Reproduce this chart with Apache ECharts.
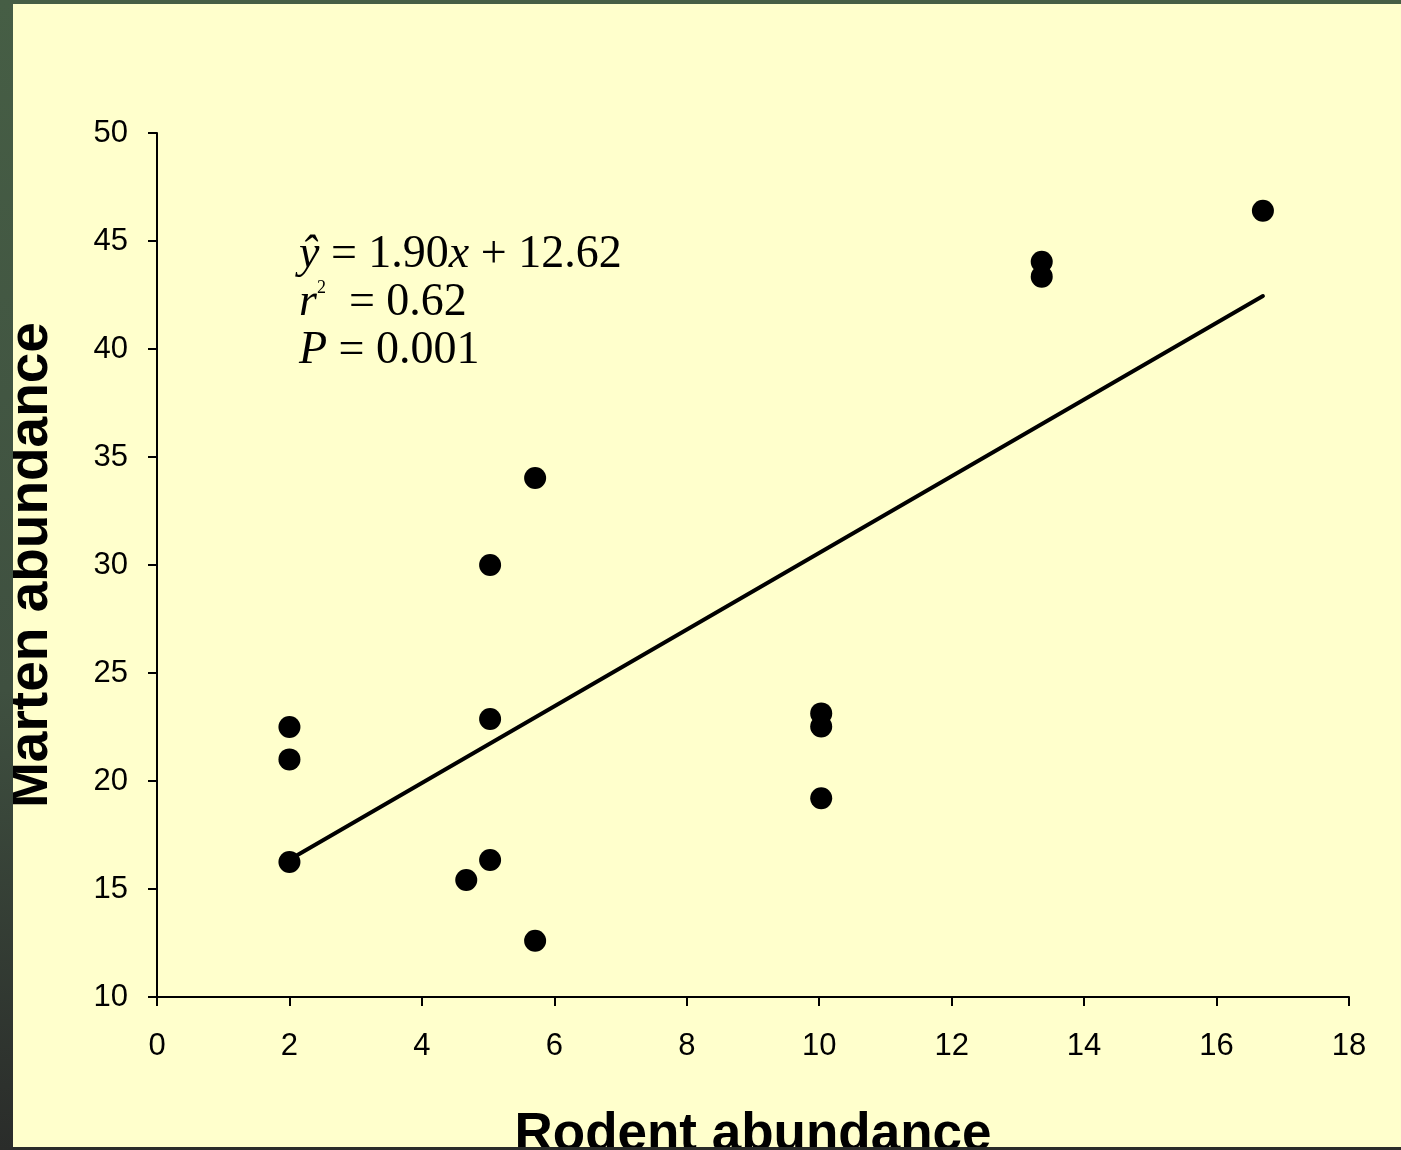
<!DOCTYPE html>
<html>
<head>
<meta charset="utf-8">
<script src="https://cdn.jsdelivr.net/npm/echarts@6/dist/echarts.min.js"></script>
<style>
  html, body { margin: 0; padding: 0; width: 1401px; height: 1150px; overflow: hidden; }
  body { background: linear-gradient(to bottom, #465e45 0%, #3f5040 60%, #2a2c2a 100%); position: relative; }
  #chart { position: absolute; left: 13px; top: 4px; width: 1388px; height: 1143px; }
</style>
</head>
<body>
<div id="chart"></div>
<script>
// Rodent abundance (x) vs marten abundance (y), one point per site
const rodentAbundance = [2, 2, 2, 4.67, 5.03, 5.03, 5.03, 5.71, 5.71, 10.03, 10.03, 10.03, 13.36, 13.36, 16.7];
const martenAbundance = [22.5, 21.0, 16.25, 15.42, 16.34, 22.87, 30.0, 34.03, 12.6, 23.13, 22.52, 19.2, 44.04, 43.35, 46.4];

// Fitted regression line, drawn between its two end points
const fitX = [2.05, 16.7];
const fitY = [16.45, 42.45];

// Axis ranges and tick steps
const xTicks = { min: 0, max: 18, step: 2 };
const yTicks = { min: 10, max: 50, step: 5 };

const points = rodentAbundance.map((x, i) => [x, martenAbundance[i]]);
const fitLine = fitX.map((x, i) => [x, fitY[i]]);

const chart = echarts.init(document.getElementById('chart'), null, { renderer: 'canvas' });

const axisStyle = {
  axisLine: { show: true, onZero: false, lineStyle: { color: '#000', width: 2 } },
  axisTick: { show: true, inside: false, length: 9, lineStyle: { color: '#000', width: 2 } },
  splitLine: { show: false },
};

const serif = '"Liberation Serif", "Times New Roman", serif';
const sans = '"Liberation Sans", Arial, sans-serif';

chart.setOption({
  backgroundColor: '#FFFFCC',
  animation: false,
  grid: { left: 144, top: 129, width: 1192, height: 864, containLabel: false, outerBoundsMode: 'none' },
  xAxis: Object.assign({
    type: 'value',
    min: xTicks.min, max: xTicks.max, interval: xTicks.step,
    name: 'Rodent abundance',
    nameLocation: 'middle',
    nameGap: 112,
    nameTextStyle: { fontFamily: sans, fontWeight: 'bold', fontSize: 53, color: '#000' },
    axisLabel: { margin: 34, fontFamily: sans, fontSize: 31, color: '#000' },
  }, axisStyle),
  yAxis: Object.assign({
    type: 'value',
    min: yTicks.min, max: yTicks.max, interval: yTicks.step,
    name: 'Marten abundance',
    nameLocation: 'middle',
    nameRotate: 90,
    nameGap: 98,
    nameTextStyle: { fontFamily: sans, fontWeight: 'bold', fontSize: 55, color: '#000' },
    axisLabel: { margin: 29, fontFamily: sans, fontSize: 31, color: '#000' },
  }, axisStyle),
  series: [
    {
      type: 'line',
      data: fitLine,
      symbol: 'none',
      lineStyle: { color: '#000', width: 4, cap: 'round' },
      z: 2,
    },
    {
      type: 'scatter',
      data: points,
      symbol: 'circle',
      symbolSize: 22,
      itemStyle: { color: '#000', opacity: 1 },
      z: 3,
    },
  ],
  graphic: [
    {
      type: 'text',
      left: 286, top: 227,
      style: {
        text: '{i|ŷ}{n| = 1.90}{i|x}{n| + 12.62}\n{i|r}{s|2}{n|  = 0.62}\n{i|P}{n| = 0.001}',
        lineHeight: 48,
        fill: '#000',
        rich: {
          n: { fontFamily: serif, fontSize: 46, lineHeight: 48, fill: '#000' },
          i: { fontFamily: serif, fontSize: 46, fontStyle: 'italic', lineHeight: 48, fill: '#000' },
          s: { fontFamily: serif, fontSize: 18, lineHeight: 48, verticalAlign: 'top', padding: [0, 0, 22, 0], fill: '#000' },
        },
      },
      z: 10,
    },
  ],
});
</script>
</body>
</html>
